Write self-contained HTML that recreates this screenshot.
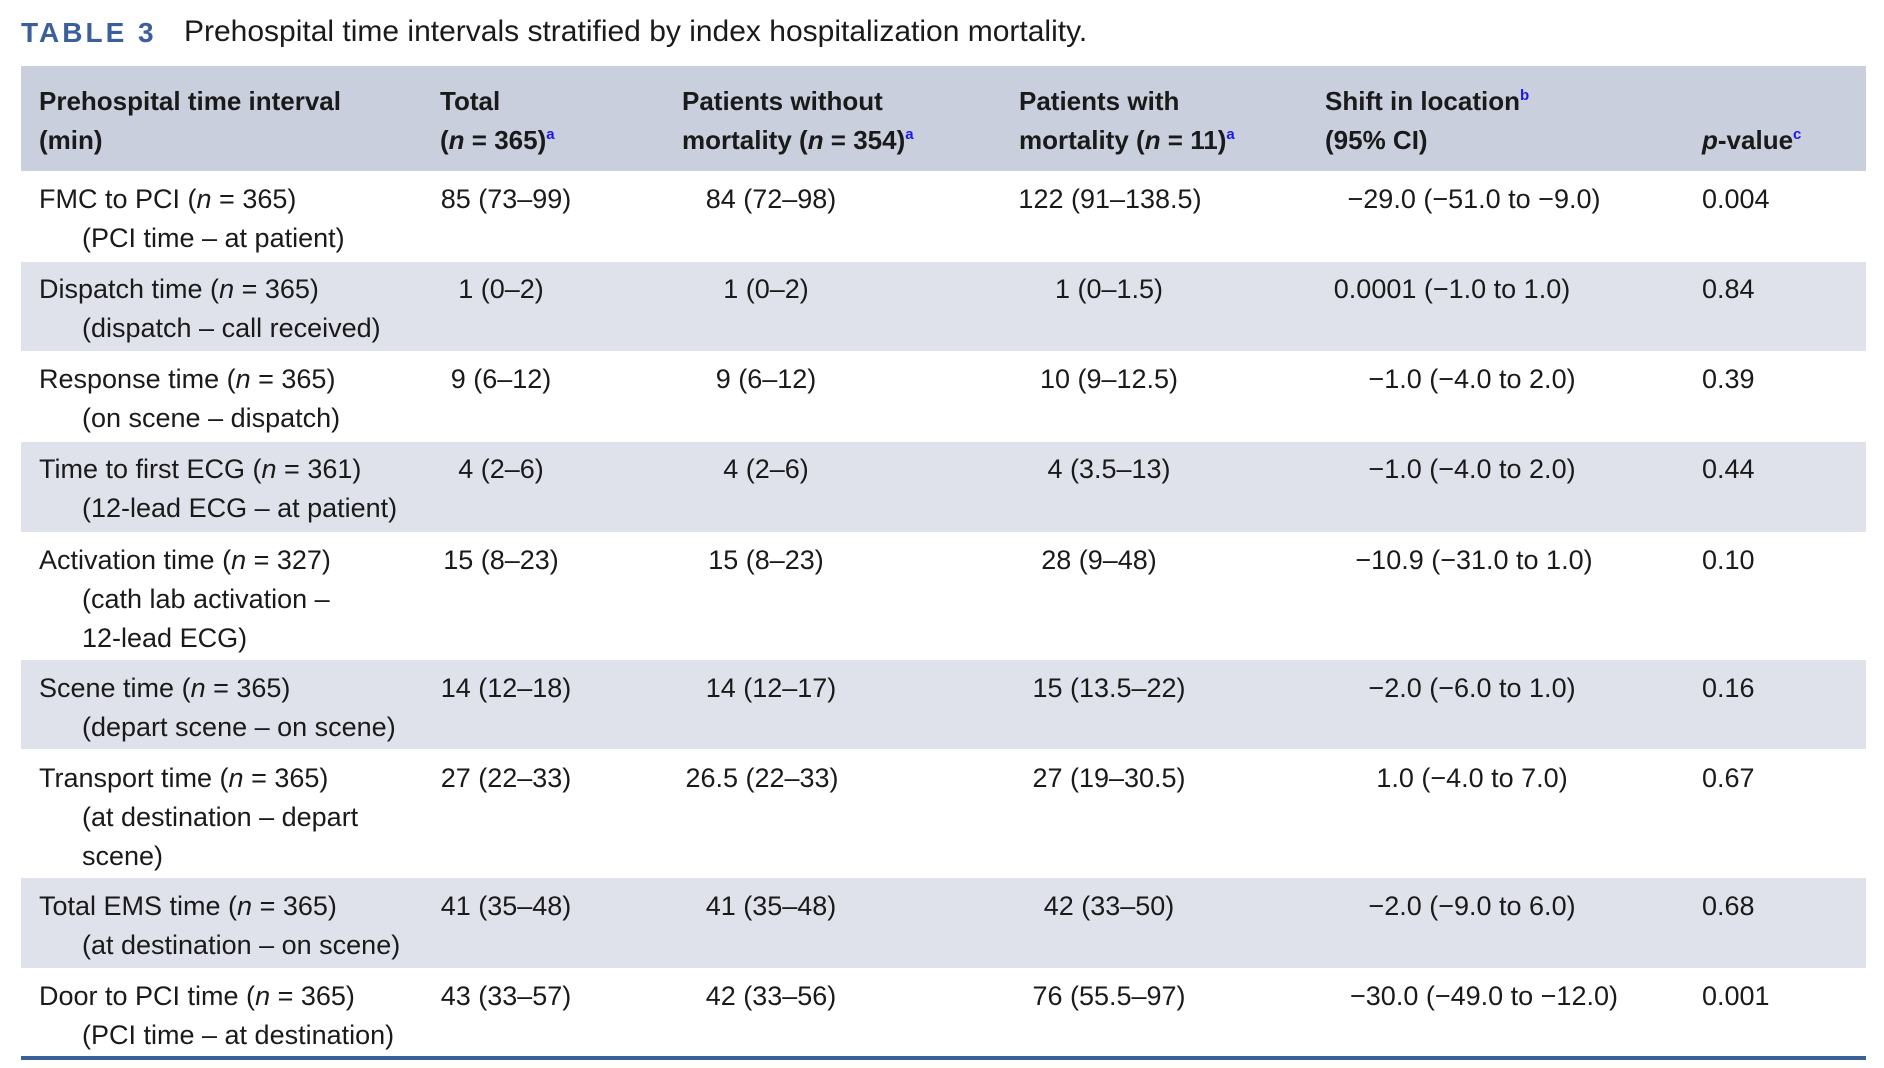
<!DOCTYPE html>
<html><head><meta charset="utf-8"><style>
body{margin:0;width:1884px;height:1068px;background:#fff;position:relative;overflow:hidden;font-family:"Liberation Sans",sans-serif;color:#1a1a1a;font-size:27px}
.t{position:absolute;white-space:nowrap;line-height:39px}
.c{transform:translateX(-50%)}
.bg{position:absolute;left:21px;width:1845px}
sup{color:#1a1aee;font-size:15px;vertical-align:10px;line-height:0}
.h{font-weight:bold;font-size:26px}
</style></head><body>
<div class="t" style="left:21px;top:14px;font-size:28px;line-height:38px;color:#3a5f9a;font-weight:bold;letter-spacing:3px">TABLE 3</div>
<div class="t" style="left:184px;top:13px;font-size:30px;line-height:38px">Prehospital time intervals stratified by index hospitalization mortality.</div>
<div class="bg" style="top:66px;height:105px;background:#c9cfdd"></div>
<div class="bg" style="top:262px;height:89px;background:#dfe2eb"></div>
<div class="bg" style="top:442px;height:90px;background:#dfe2eb"></div>
<div class="bg" style="top:660px;height:89px;background:#dfe2eb"></div>
<div class="bg" style="top:878px;height:90px;background:#dfe2eb"></div>
<div class="bg" style="top:1056px;height:4px;background:#3a5f9a"></div>
<div class="h">
<div class="t" style="left:39px;top:82px">Prehospital time interval<br>(min)</div>
<div class="t" style="left:440px;top:82px">Total<br>(<i>n</i> = 365)<sup>a</sup></div>
<div class="t" style="left:682px;top:82px">Patients without<br>mortality (<i>n</i> = 354)<sup>a</sup></div>
<div class="t" style="left:1019px;top:82px">Patients with<br>mortality (<i>n</i> = 11)<sup>a</sup></div>
<div class="t" style="left:1325px;top:82px">Shift in location<sup>b</sup><br>(95% CI)</div>
<div class="t" style="left:1702px;top:121px"><i>p</i>-value<sup>c</sup></div>
</div>
<div class="t" style="left:39px;top:180px">FMC to PCI (<i>n</i> = 365)<br><span style="padding-left:43px">(PCI time – at patient)</span></div>
<div class="t c" style="left:506px;top:180px">85 (73–99)</div><div class="t c" style="left:771px;top:180px">84 (72–98)</div><div class="t c" style="left:1110px;top:180px">122 (91–138.5)</div><div class="t c" style="left:1474px;top:180px">−29.0 (−51.0 to −9.0)</div><div class="t" style="left:1702px;top:180px">0.004</div>

<div class="t" style="left:39px;top:270px">Dispatch time (<i>n</i> = 365)<br><span style="padding-left:43px">(dispatch – call received)</span></div>
<div class="t c" style="left:501px;top:270px">1 (0–2)</div><div class="t c" style="left:766px;top:270px">1 (0–2)</div><div class="t c" style="left:1109px;top:270px">1 (0–1.5)</div><div class="t c" style="left:1452px;top:270px">0.0001 (−1.0 to 1.0)</div><div class="t" style="left:1702px;top:270px">0.84</div>

<div class="t" style="left:39px;top:360px">Response time (<i>n</i> = 365)<br><span style="padding-left:43px">(on scene – dispatch)</span></div>
<div class="t c" style="left:501px;top:360px">9 (6–12)</div><div class="t c" style="left:766px;top:360px">9 (6–12)</div><div class="t c" style="left:1109px;top:360px">10 (9–12.5)</div><div class="t c" style="left:1472px;top:360px">−1.0 (−4.0 to 2.0)</div><div class="t" style="left:1702px;top:360px">0.39</div>

<div class="t" style="left:39px;top:450px">Time to first ECG (<i>n</i> = 361)<br><span style="padding-left:43px">(12-lead ECG – at patient)</span></div>
<div class="t c" style="left:501px;top:450px">4 (2–6)</div><div class="t c" style="left:766px;top:450px">4 (2–6)</div><div class="t c" style="left:1109px;top:450px">4 (3.5–13)</div><div class="t c" style="left:1472px;top:450px">−1.0 (−4.0 to 2.0)</div><div class="t" style="left:1702px;top:450px">0.44</div>

<div class="t" style="left:39px;top:541px">Activation time (<i>n</i> = 327)<br><span style="padding-left:43px">(cath lab activation –</span><br><span style="padding-left:43px">12-lead ECG)</span></div>
<div class="t c" style="left:501px;top:541px">15 (8–23)</div><div class="t c" style="left:766px;top:541px">15 (8–23)</div><div class="t c" style="left:1099px;top:541px">28 (9–48)</div><div class="t c" style="left:1474px;top:541px">−10.9 (−31.0 to 1.0)</div><div class="t" style="left:1702px;top:541px">0.10</div>

<div class="t" style="left:39px;top:669px">Scene time (<i>n</i> = 365)<br><span style="padding-left:43px">(depart scene – on scene)</span></div>
<div class="t c" style="left:506px;top:669px">14 (12–18)</div><div class="t c" style="left:771px;top:669px">14 (12–17)</div><div class="t c" style="left:1109px;top:669px">15 (13.5–22)</div><div class="t c" style="left:1472px;top:669px">−2.0 (−6.0 to 1.0)</div><div class="t" style="left:1702px;top:669px">0.16</div>

<div class="t" style="left:39px;top:759px">Transport time (<i>n</i> = 365)<br><span style="padding-left:43px">(at destination – depart</span><br><span style="padding-left:43px">scene)</span></div>
<div class="t c" style="left:506px;top:759px">27 (22–33)</div><div class="t c" style="left:762px;top:759px">26.5 (22–33)</div><div class="t c" style="left:1109px;top:759px">27 (19–30.5)</div><div class="t c" style="left:1472px;top:759px">1.0 (−4.0 to 7.0)</div><div class="t" style="left:1702px;top:759px">0.67</div>

<div class="t" style="left:39px;top:887px">Total EMS time (<i>n</i> = 365)<br><span style="padding-left:43px">(at destination – on scene)</span></div>
<div class="t c" style="left:506px;top:887px">41 (35–48)</div><div class="t c" style="left:771px;top:887px">41 (35–48)</div><div class="t c" style="left:1109px;top:887px">42 (33–50)</div><div class="t c" style="left:1472px;top:887px">−2.0 (−9.0 to 6.0)</div><div class="t" style="left:1702px;top:887px">0.68</div>

<div class="t" style="left:39px;top:977px">Door to PCI time (<i>n</i> = 365)<br><span style="padding-left:43px">(PCI time – at destination)</span></div>
<div class="t c" style="left:506px;top:977px">43 (33–57)</div><div class="t c" style="left:771px;top:977px">42 (33–56)</div><div class="t c" style="left:1109px;top:977px">76 (55.5–97)</div><div class="t c" style="left:1484px;top:977px">−30.0 (−49.0 to −12.0)</div><div class="t" style="left:1702px;top:977px">0.001</div>
</body></html>
